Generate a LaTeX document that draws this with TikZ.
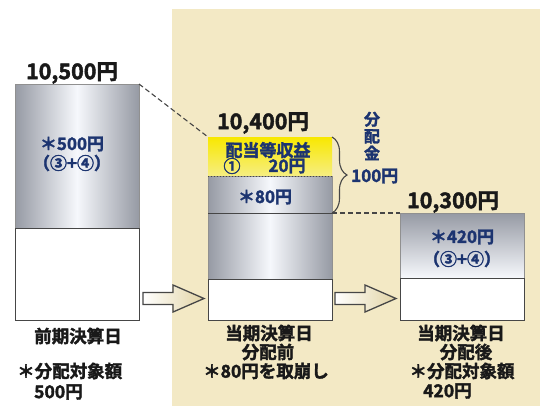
\documentclass[tikz,border=0pt]{standalone}
\usepackage{fontspec}
\setmainfont{Noto Sans CJK JP}[BoldFont={Noto Sans CJK JP Bold}, BoldFeatures={FakeBold=2}]
\usetikzlibrary{decorations.pathreplacing}
\definecolor{beige}{RGB}{243,233,197}
\definecolor{arrowtint}{RGB}{226,212,165}
\definecolor{metal}{RGB}{150,154,164}
\definecolor{shine}{RGB}{246,248,252}
\definecolor{navy}{RGB}{28,52,112}
\definecolor{ink}{RGB}{25,25,25}
\definecolor{edge}{RGB}{70,70,70}
\definecolor{yel}{RGB}{248,232,0}
\definecolor{yellight}{RGB}{246,238,130}
\begin{document}
\begin{tikzpicture}[x=1pt,y=-1pt,
  part/.style={draw=edge!60, line width=0.5pt, minimum width=124pt, anchor=north west, inner sep=0pt, outer sep=0pt},
  metalh/.style={part, left color=metal, right color=metal, middle color=shine},
  metalv/.style={part, top color=metal, bottom color=shine},
  whitebox/.style={part, draw=edge, fill=white, line width=0.9pt},
  yelbox/.style={part, top color=yel, bottom color=yellight, draw=none},
  sumlbl/.style={font=\bfseries\fontsize{21.5}{23}\selectfont, text=ink, inner sep=0pt},
  bluelbl/.style={font=\bfseries\fontsize{17}{19}\selectfont, text=navy, inner sep=0pt},
  vertlbl/.style={font=\bfseries\fontsize{16}{17}\selectfont, text=navy, inner sep=0pt, align=center},
  datelbl/.style={font=\bfseries\fontsize{17.5}{19}\selectfont, text=ink, inner sep=0pt},
  guide/.style={draw=edge, line width=1.1pt, dash pattern=on 5pt off 3pt},
  blockarrow/.style={draw=edge, line width=1.3pt, left color=white, right color=arrowtint},
  bracestyle/.style={draw=edge, line width=1.1pt, decorate, decoration={brace, amplitude=15pt}}
]
% canvas and background
\path[fill=white] (0,0) rectangle (540,410);
\fill[beige] (172,9) rectangle (540,406);

% box 1
\node[metalh, minimum height=144pt] (b1m) at (15,84) {};
\node[whitebox, minimum height=92pt] (b1w) at (15,228) {};

% box 2
\node[yelbox, minimum height=39pt] (b2y) at (208,137) {};
\node[metalh, minimum height=37pt] (b2a) at (208,176) {};
\node[metalh, minimum height=66pt] (b2b) at (208,213) {};
\node[whitebox, minimum height=41pt] (b2w) at (208,279) {};
\draw[edge, line width=1pt, dotted] (b2y.south west) -- (b2y.south east);
\draw[edge, line width=1pt] (b2b.north west) -- (b2b.north east);

% box 3
\node[metalv, minimum height=65pt] (b3m) at (400,213) {};
\node[whitebox, minimum height=42pt] (b3w) at (400,278) {};

% guides
\draw[guide] (b1m.north east) -- (b2y.north west);
\draw[guide] (b2b.north east) -- (b3m.north west);
\draw[bracestyle] (b2y.north east) -- (b2b.north east);

% block arrows
\draw[blockarrow] (143,292.5) -- (173,292.5) -- (173,285) -- (204,298.5) -- (173,312) -- (173,304.5) -- (143,304.5) -- cycle;
\draw[blockarrow] (335,292.5) -- (365,292.5) -- (365,285) -- (396,298.5) -- (365,312) -- (365,304.5) -- (335,304.5) -- cycle;

% totals
\node[sumlbl] (t1) at (72,73) {10,500円};
\node[sumlbl] (t2) at (263,123) {10,400円};
\node[sumlbl] (t3) at (453,202) {10,300円};

% inner labels
\node[bluelbl] (v1) at (72,144) {＊500円};
\node[bluelbl] (v1b) at (72,163) {（③+④）};
\node[bluelbl] (v2a) at (268,150) {配当等収益};
\node[bluelbl] (v2n) at (232,166) {①};
\node[bluelbl] (v2b) at (287,166) {20円};
\node[bluelbl] (v2c) at (265,197) {＊80円};
\node[bluelbl] (v3) at (462,237) {＊420円};
\node[bluelbl] (v3b) at (462,259) {（③+④）};
\node[vertlbl] (kin) at (372,136) {分\\配\\金};
\node[bluelbl, anchor=west] (hyaku) at (351,176) {100円};

% dates
\node[datelbl] (d1) at (78,336) {前期決算日};
\node[datelbl, anchor=west] (d1a) at (17,371) {＊分配対象額};
\node[datelbl, anchor=west] (d1b) at (34,392) {500円};
\node[datelbl] (d2) at (269,333) {当期決算日};
\node[datelbl] (d2a) at (268,352) {分配前};
\node[datelbl] (d2b) at (266,371) {＊80円を取崩し};
\node[datelbl] (d3) at (461,333) {当期決算日};
\node[datelbl] (d3a) at (466,352) {分配後};
\node[datelbl] (d3b) at (462,371) {＊分配対象額};
\node[datelbl, anchor=west] (d3c) at (423,391) {420円};
\end{tikzpicture}
\end{document}
